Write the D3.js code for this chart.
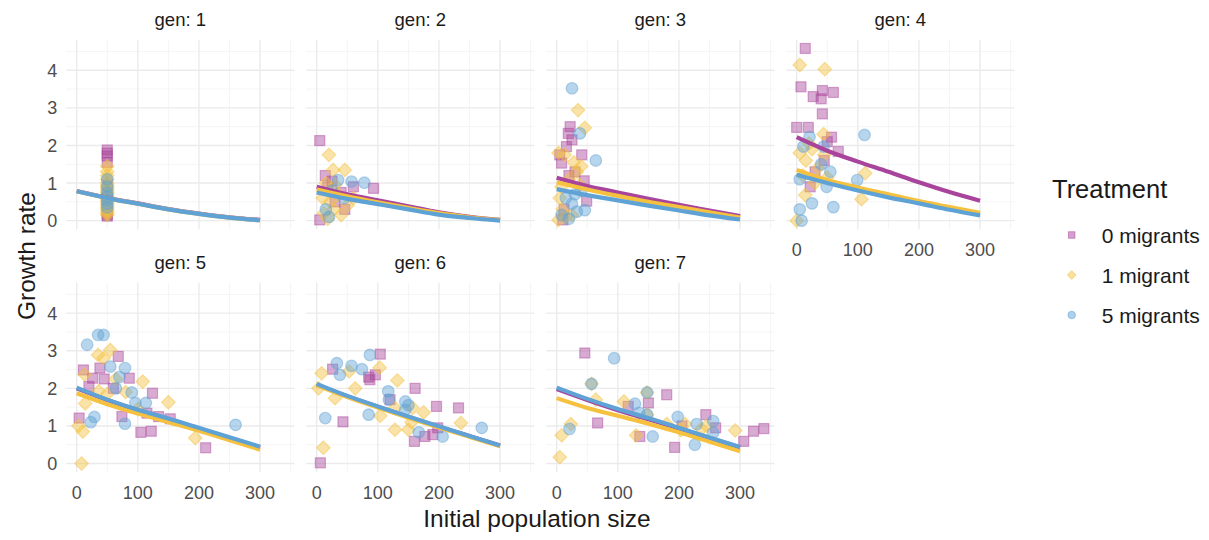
<!DOCTYPE html>
<html>
<head>
<meta charset="utf-8">
<script src="https://cdn.jsdelivr.net/npm/d3@7/dist/d3.min.js"></script>
<style>
  html, body { margin: 0; padding: 0; background: #ffffff; }
  svg { display: block; font-family: "Liberation Sans", Arial, Helvetica, sans-serif; }
</style>
</head>
<body>
<svg id="chart" width="1209" height="540"></svg>
<script>
// Generations shown as facets
const gens = [1, 2, 3, 4, 5, 6, 7];
const treatments = ["0 migrants", "1 migrant", "5 migrants"];
const treatmentColors = ["#A8449C", "#F5C13F", "#5FA2D5"];
const treatmentShapes = ["square", "diamond", "circle"];

const xTicks = [0, 100, 200, 300];
const yTicks = [0, 1, 2, 3, 4];
const xMinor = [50, 150, 250, 350];
const yMinor = [0.5, 1.5, 2.5, 3.5, 4.5];

// Fitted curve sampled at these population sizes
const fitX = [0, 50, 100, 150, 200, 250, 300];

// Fitted growth rate per generation (rows: gen 1..7)
const fitZero = [
  [0.79, 0.61, 0.46, 0.31, 0.19, 0.09, 0.02],
  [0.90, 0.70, 0.54, 0.38, 0.22, 0.10, 0.02],
  [1.14, 0.92, 0.75, 0.58, 0.42, 0.27, 0.12],
  [2.22, 1.86, 1.57, 1.30, 1.02, 0.76, 0.53],
  [2.00, 1.69, 1.42, 1.18, 0.93, 0.68, 0.43],
  [2.10, 1.79, 1.51, 1.24, 0.98, 0.73, 0.48],
  [1.98, 1.69, 1.42, 1.18, 0.93, 0.68, 0.43]
];
const fitOne = [
  [0.78, 0.60, 0.45, 0.30, 0.18, 0.08, 0.01],
  [0.83, 0.65, 0.49, 0.34, 0.20, 0.09, 0.02],
  [1.02, 0.83, 0.66, 0.50, 0.36, 0.22, 0.08],
  [1.35, 1.08, 0.88, 0.70, 0.52, 0.36, 0.21],
  [1.87, 1.58, 1.33, 1.10, 0.87, 0.62, 0.37],
  [2.08, 1.77, 1.49, 1.22, 0.96, 0.71, 0.46],
  [1.74, 1.48, 1.27, 1.06, 0.83, 0.58, 0.33]
];
const fitFive = [
  [0.78, 0.60, 0.45, 0.30, 0.18, 0.08, 0.01],
  [0.75, 0.58, 0.44, 0.30, 0.16, 0.07, 0.00],
  [0.84, 0.68, 0.54, 0.40, 0.27, 0.14, 0.03],
  [1.22, 1.00, 0.80, 0.62, 0.46, 0.29, 0.14],
  [2.02, 1.70, 1.43, 1.20, 0.95, 0.70, 0.45],
  [2.12, 1.80, 1.52, 1.25, 0.99, 0.73, 0.48],
  [2.02, 1.72, 1.45, 1.21, 0.95, 0.69, 0.44]
];

// Observed [initial population size, growth rate] per generation
const ptsZero = [
  [[50,1.88],[50,1.8],[50,1.72],[50,1.55],[50,0.95],[50,0.6],[50,0.35],[50,0.2],[50,0.12],[50,0.15]],
  [[5,2.13],[14,1.2],[25,1.05],[40,0.75],[46,0.3],[93,0.86],[5,0.02],[30,0.5],[18,0.9],[60,0.9]],
  [[22,2.5],[19,2.32],[25,2.15],[16,1.97],[5,1.75],[8,1.53],[41,1.75],[45,1.06],[49,0.52],[10,0.02],[20,1.2],[30,1.3],[12,0.3]],
  [[14,4.58],[7,3.56],[27,3.3],[42,3.46],[40,3.24],[60,3.41],[42,2.84],[0,2.48],[19,2.48],[57,2.22],[68,1.84],[22,0.9],[45,1.6],[30,1.3],[50,2.1]],
  [[68,2.85],[38,2.54],[11,2.49],[26,2.27],[45,2.25],[86,2.27],[60,2.0],[124,1.87],[115,1.34],[134,1.25],[153,1.19],[74,1.25],[105,0.83],[122,0.86],[211,0.42],[4,1.21],[20,2.05]],
  [[104,2.91],[26,2.51],[96,2.36],[87,2.23],[161,2.0],[120,1.7],[196,1.52],[232,1.48],[43,1.11],[198,0.95],[190,0.77],[177,0.72],[160,0.59],[6,0.02],[85,2.3]],
  [[46,2.94],[180,1.83],[150,1.61],[117,1.52],[244,1.3],[67,1.08],[306,0.59],[322,0.86],[339,0.93],[193,0.43],[136,0.72],[205,1.0],[260,0.95]]
];
const ptsOne = [
  [[50,1.45],[50,1.3],[50,1.2],[50,1.1],[50,1.0],[50,0.95],[50,0.9],[50,0.85],[50,0.8],[50,0.75],[50,0.7],[50,0.65],[50,0.6],[50,0.55],[50,0.5],[50,0.45],[50,0.4],[50,0.35],[50,0.3],[50,0.25],[50,0.2],[50,0.15]],
  [[20,1.75],[27,1.35],[46,1.35],[15,1.0],[30,0.95],[35,0.7],[22,0.5],[28,0.3],[12,0.2],[40,0.15],[50,0.4],[10,0.6],[60,0.6],[18,0.05]],
  [[35,2.94],[46,2.47],[3,1.8],[13,1.75],[28,1.55],[33,1.3],[20,1.1],[38,0.95],[5,0.6],[10,0.3],[3,0.02],[25,0.15],[15,0.1],[40,1.45],[8,0.9]],
  [[5,4.14],[46,4.03],[44,2.3],[5,1.8],[15,1.6],[25,1.9],[35,1.4],[10,1.2],[45,1.75],[112,1.26],[106,0.57],[14,0.68],[0,0],[30,1.0],[50,1.15],[20,2.05]],
  [[35,2.89],[55,3.02],[44,2.8],[13,2.37],[108,2.18],[64,2.25],[36,1.92],[150,1.63],[194,0.68],[3,1.0],[10,0.85],[8,0],[14,1.6],[50,1.85],[80,1.9],[100,1.45]],
  [[53,2.45],[8,2.4],[3,2.0],[103,2.55],[132,2.21],[63,2.0],[30,1.74],[157,1.48],[175,1.36],[128,1.48],[104,1.27],[236,1.08],[128,0.9],[150,0.9],[11,0.42],[155,1.1]],
  [[57,2.12],[64,1.7],[148,1.89],[110,1.65],[148,1.3],[23,1.05],[8,0.75],[180,1.05],[210,1.05],[237,0.92],[245,1.0],[292,0.88],[130,0.75],[5,0.17],[203,0.89]]
];
const ptsFive = [
  [[50,1.1],[50,0.9],[50,0.75],[50,0.65],[50,0.55],[50,0.45],[50,0.35]],
  [[57,1.04],[78,1.01],[35,1.08],[25,0.8],[45,0.6],[15,0.3],[20,0.1]],
  [[25,3.52],[38,2.32],[64,1.6],[33,0.24],[46,0.28],[15,0.6],[25,0.45],[40,0.8],[8,0.15],[20,0.05],[30,0.7]],
  [[111,2.28],[21,2.23],[99,1.08],[60,0.36],[25,0.46],[5,0.3],[8,0],[49,0.9],[5,1.1],[11,1.97],[44,1.97],[40,1.5],[55,1.3]],
  [[17,3.16],[35,3.42],[44,3.42],[55,2.58],[79,2.54],[64,2.0],[90,1.89],[96,1.61],[113,1.61],[79,1.06],[260,1.03],[29,1.24],[23,1.1],[70,2.3]],
  [[87,2.89],[33,2.67],[57,2.6],[74,2.51],[38,2.36],[117,1.92],[145,1.65],[145,1.43],[85,1.3],[14,1.21],[270,0.95],[167,0.83],[206,0.72],[118,1.7],[150,1.55]],
  [[57,2.12],[94,2.8],[148,1.89],[128,1.59],[148,1.3],[21,0.92],[198,1.24],[229,1.05],[256,1.13],[256,0.82],[157,0.72],[226,0.5],[135,1.35]]
];

const fits = [fitZero, fitOne, fitFive];
const pts = [ptsZero, ptsOne, ptsFive];

// Layout
const svg = d3.select("#chart");
const panelW = 228, panelH = 189.5;
const colX = [66.3, 306.3, 546.3, 786.3];
const rowY = [39.8, 282.7];

const x = d3.scaleLinear().domain([-17, 356]).range([0, panelW]);
const y = d3.scaleLinear().domain([-0.23, 4.81]).range([panelH, 0]);

const line = d3.line()
  .x(d => x(d[0]))
  .y(d => y(d[1]))
  .curve(d3.curveMonotoneX);

function drawShape(sel, shape, size) {
  if (shape === "square") {
    sel.append("rect")
      .attr("x", -size / 2).attr("y", -size / 2)
      .attr("width", size).attr("height", size);
  } else if (shape === "diamond") {
    const r = size * 0.68;
    sel.append("path").attr("d", `M0,${-r}L${r},0L0,${r}L${-r},0Z`);
  } else {
    sel.append("circle").attr("r", size * 0.58);
  }
}

gens.forEach((g, gi) => {
  const col = gi % 4, row = Math.floor(gi / 4);
  const panel = svg.append("g")
    .attr("transform", `translate(${colX[col]},${rowY[row]})`);

  // Minor grid
  panel.append("g").selectAll("line").data(xMinor).join("line")
    .attr("x1", d => x(d)).attr("x2", d => x(d))
    .attr("y1", 0).attr("y2", panelH)
    .attr("stroke", "#F2F2F2").attr("stroke-width", 0.8);
  panel.append("g").selectAll("line").data(yMinor).join("line")
    .attr("y1", d => y(d)).attr("y2", d => y(d))
    .attr("x1", 0).attr("x2", panelW)
    .attr("stroke", "#F2F2F2").attr("stroke-width", 0.8);
  // Major grid
  panel.append("g").selectAll("line").data(xTicks).join("line")
    .attr("x1", d => x(d)).attr("x2", d => x(d))
    .attr("y1", 0).attr("y2", panelH)
    .attr("stroke", "#EBEBEB").attr("stroke-width", 1.4);
  panel.append("g").selectAll("line").data(yTicks).join("line")
    .attr("y1", d => y(d)).attr("y2", d => y(d))
    .attr("x1", 0).attr("x2", panelW)
    .attr("stroke", "#EBEBEB").attr("stroke-width", 1.4);

  // Strip title
  svg.append("text")
    .attr("x", colX[col] + panelW / 2)
    .attr("y", rowY[row] - 13.5)
    .attr("text-anchor", "middle")
    .attr("font-size", 18.5)
    .attr("fill", "#1A1A1A")
    .text(`gen: ${g}`);

  // Observed points
  treatments.forEach((t, ti) => {
    const grp = panel.append("g")
      .attr("fill", treatmentColors[ti])
      .attr("fill-opacity", 0.45)
      .attr("stroke", treatmentColors[ti])
      .attr("stroke-opacity", 0.45)
      .attr("stroke-width", 1.2);
    pts[ti][gi].forEach(p => {
      const s = grp.append("g").attr("transform", `translate(${x(p[0])},${y(p[1])})`);
      drawShape(s, treatmentShapes[ti], 10);
    });
  });

  // Fitted curves
  treatments.forEach((t, ti) => {
    const data = fitX.map((xv, i) => [xv, fits[ti][gi][i]]);
    panel.append("path")
      .attr("d", line(data))
      .attr("fill", "none")
      .attr("stroke", treatmentColors[ti])
      .attr("stroke-width", 4.2)
      .attr("stroke-linecap", "butt");
  });

  // Y tick labels on the first column
  if (col === 0) {
    panel.append("g").selectAll("text").data(yTicks).join("text")
      .attr("x", -9).attr("y", d => y(d)).attr("dy", "0.36em")
      .attr("text-anchor", "end")
      .attr("font-size", 18)
      .attr("fill", "#4D4D4D")
      .text(d => d);
  }
  // X tick labels on the bottom of each column
  if (row === 1 || col === 3) {
    panel.append("g").selectAll("text").data(xTicks).join("text")
      .attr("x", d => x(d)).attr("y", panelH + 20).attr("dy", "0.36em")
      .attr("text-anchor", "middle")
      .attr("font-size", 18)
      .attr("fill", "#4D4D4D")
      .text(d => d);
  }
});

// Axis titles
svg.append("text")
  .attr("x", 537).attr("y", 527)
  .attr("text-anchor", "middle")
  .attr("font-size", 24.5)
  .attr("fill", "#1A1A1A")
  .text("Initial population size");
svg.append("text")
  .attr("transform", "translate(35,256) rotate(-90)")
  .attr("text-anchor", "middle")
  .attr("font-size", 24.5)
  .attr("fill", "#1A1A1A")
  .text("Growth rate");

// Legend
const legend = svg.append("g").attr("transform", "translate(1035,0)");
legend.append("text")
  .attr("x", 17).attr("y", 198)
  .attr("font-size", 25.5)
  .attr("fill", "#1A1A1A")
  .text("Treatment");
const legendY = [235, 275, 315];
treatments.forEach((t, ti) => {
  const item = legend.append("g").attr("transform", `translate(0,${legendY[ti]})`);
  const s = item.append("g")
    .attr("transform", "translate(36.7,0)")
    .attr("fill", treatmentColors[ti]).attr("fill-opacity", 0.5)
    .attr("stroke", treatmentColors[ti]).attr("stroke-opacity", 0.5)
    .attr("stroke-width", 1);
  drawShape(s, treatmentShapes[ti], 6.5);
  item.append("text")
    .attr("x", 66.7).attr("y", 0).attr("dy", "0.36em")
    .attr("font-size", 21)
    .attr("fill", "#1A1A1A")
    .text(t);
});
</script>
</body>
</html>
